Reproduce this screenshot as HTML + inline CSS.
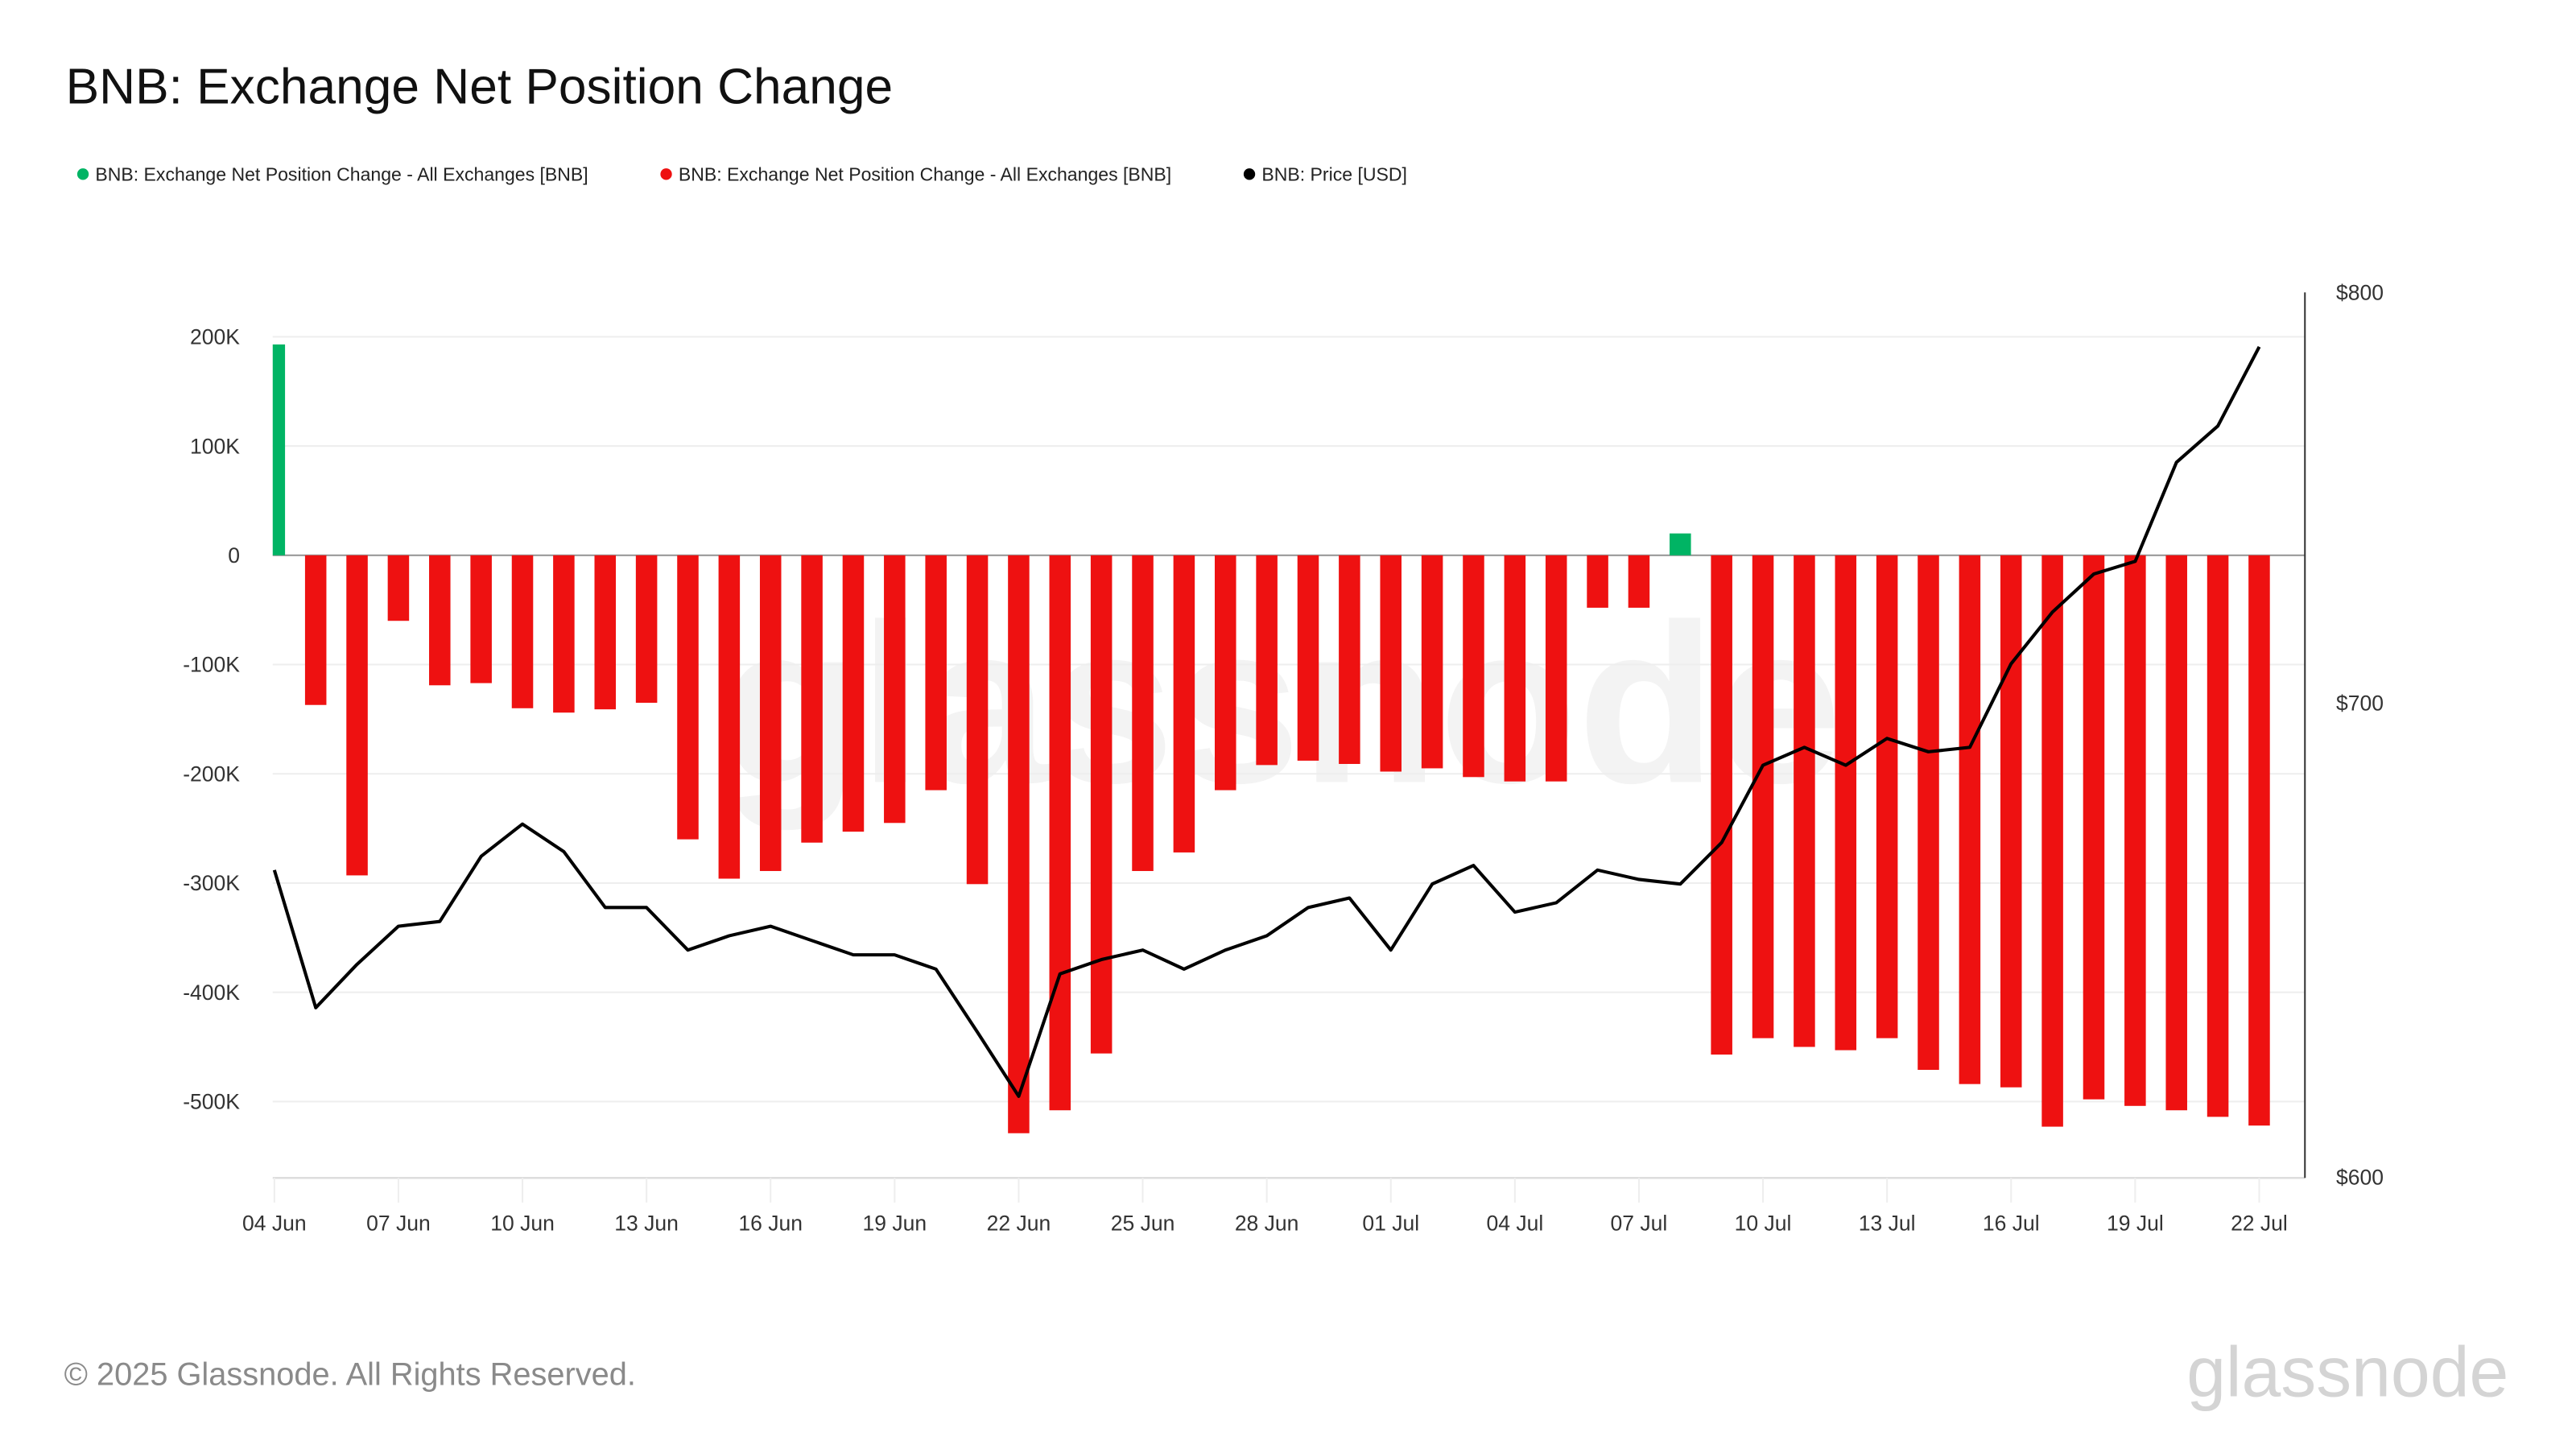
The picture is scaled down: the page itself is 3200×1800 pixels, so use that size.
<!DOCTYPE html>
<html><head><meta charset="utf-8"><style>
html,body{margin:0;padding:0;background:#fff;}
svg{display:block;font-family:"Liberation Sans",sans-serif;}
</style></head><body>
<svg id="chart" width="3200" height="1800" viewBox="0 0 1568 882" xmlns="http://www.w3.org/2000/svg">
<defs><clipPath id="plotclip"><rect x="166" y="150" width="1237" height="570"/></clipPath></defs>
<text x="40" y="63" font-size="30.5" fill="#111">BNB: Exchange Net Position Change</text>
<g font-size="11.3" fill="#222">
<g><circle cx="50.5" cy="106" r="3.5" fill="#00b464"/><text x="58" y="110">BNB: Exchange Net Position Change - All Exchanges [BNB]</text></g>
<g><circle cx="405.5" cy="106" r="3.5" fill="#ee1111"/><text x="413" y="110">BNB: Exchange Net Position Change - All Exchanges [BNB]</text></g>
<g><circle cx="760.5" cy="106" r="3.5" fill="#000"/><text x="768" y="110">BNB: Price [USD]</text></g>
</g>
<text x="780" y="476" font-size="138" fill="#f3f3f3" text-anchor="middle" font-weight="bold">glassnode</text>
<g id="grid"></g>
<g id="bars" clip-path="url(#plotclip)"></g>
<g id="line"></g>
<g id="axes"></g>
<text x="39" y="843" font-size="19.5" fill="#8a8a8a">© 2025 Glassnode. All Rights Reserved.</text>
<text x="1527" y="850" font-size="43" fill="#d4d4d4" text-anchor="end">glassnode</text>
</svg>
<script>
const dates=["04 Jun","05 Jun","06 Jun","07 Jun","08 Jun","09 Jun","10 Jun","11 Jun","12 Jun","13 Jun","14 Jun","15 Jun","16 Jun","17 Jun","18 Jun","19 Jun","20 Jun","21 Jun","22 Jun","23 Jun","24 Jun","25 Jun","26 Jun","27 Jun","28 Jun","29 Jun","30 Jun","01 Jul","02 Jul","03 Jul","04 Jul","05 Jul","06 Jul","07 Jul","08 Jul","09 Jul","10 Jul","11 Jul","12 Jul","13 Jul","14 Jul","15 Jul","16 Jul","17 Jul","18 Jul","19 Jul","20 Jul","21 Jul","22 Jul"];
const netChangeK=[193,-137,-293,-60,-119,-117,-140,-144,-141,-135,-260,-296,-289,-263,-253,-245,-215,-301,-529,-508,-456,-289,-272,-215,-192,-188,-191,-198,-195,-203,-207,-207,-48,-48,20,-457,-442,-450,-453,-442,-471,-484,-487,-523,-498,-504,-508,-514,-522];
const price=[663,634,643,651,652,666,673,667,655,655,646,649,651,648,645,645,642,629,616,641,644,646,642,646,649,655,657,646,660,664,654,656,663,661,660,669,686,690,686,692,689,690,709,721,730,733,757,766,786];
const leftTicks=[200,100,0,-100,-200,-300,-400,-500];
const leftTickLabels=["200K","100K","0","-100K","-200K","-300K","-400K","-500K"];
const rightTicks=[800,700,600];
const rightTickLabels=["$800","$700","$600"];
const xTickEvery=3;

const NS="http://www.w3.org/2000/svg";
const X0=167,DX=25.17,PL=166,PR=1403,PB=717;
const x=i=>X0+i*DX;
const yL=v=>338-v*0.665;
const yR=p=>178+Math.log(800/p)*1872;
function mk(tag,attrs,parent){const e=document.createElementNS(NS,tag);for(const k in attrs)e.setAttribute(k,attrs[k]);parent.appendChild(e);return e;}
const grid=document.getElementById('grid'),bars=document.getElementById('bars'),line=document.getElementById('line'),axes=document.getElementById('axes');

leftTicks.forEach((v,i)=>{
  const g=mk('line',{x1:PL,x2:PR,y1:yL(v),y2:yL(v),stroke:v===0?'#999':'#eeeeee','stroke-width':1},grid);
  
  
  const t=mk('text',{x:146,y:yL(v)+4.5,'font-size':13,fill:'#333','text-anchor':'end'},axes);
  t.textContent=leftTickLabels[i];
  
  
});
rightTicks.forEach((p,i)=>{
  const t=mk('text',{x:1422,y:yR(p)+4.5,'font-size':13,fill:'#333'},axes);
  t.textContent=rightTickLabels[i];
  
  
});
const ax=mk('line',{x1:PL,x2:PR,y1:PB,y2:PB,stroke:'#ddd','stroke-width':1.2},axes);


const ra=mk('line',{x1:PR,x2:PR,y1:178,y2:PB,stroke:'#333','stroke-width':1},axes);


dates.forEach((d,i)=>{
  if(i%xTickEvery)return;
  const tk=mk('line',{x1:x(i),x2:x(i),y1:PB,y2:PB+15,stroke:'#eee','stroke-width':1},axes);
  
  
  const t=mk('text',{x:x(i),y:749,'font-size':13,fill:'#333','text-anchor':'middle'},axes);
  t.textContent=d;
  
  
});
netChangeK.forEach((v,i)=>{
  const y0=yL(0),y1=yL(v);
  const r=mk('rect',{x:x(i)-6.5,y:Math.min(y0,y1),width:13,height:Math.abs(y1-y0),fill:v>=0?'#00b464':'#ee1111'},bars);
  
  
});
const pts=price.map((p,i)=>x(i).toFixed(1)+','+yR(p).toFixed(1)).join(' ');
const pl=mk('polyline',{points:pts,fill:'none',stroke:'#000','stroke-width':2,'stroke-linejoin':'round'},line);


</script>
</body></html>
